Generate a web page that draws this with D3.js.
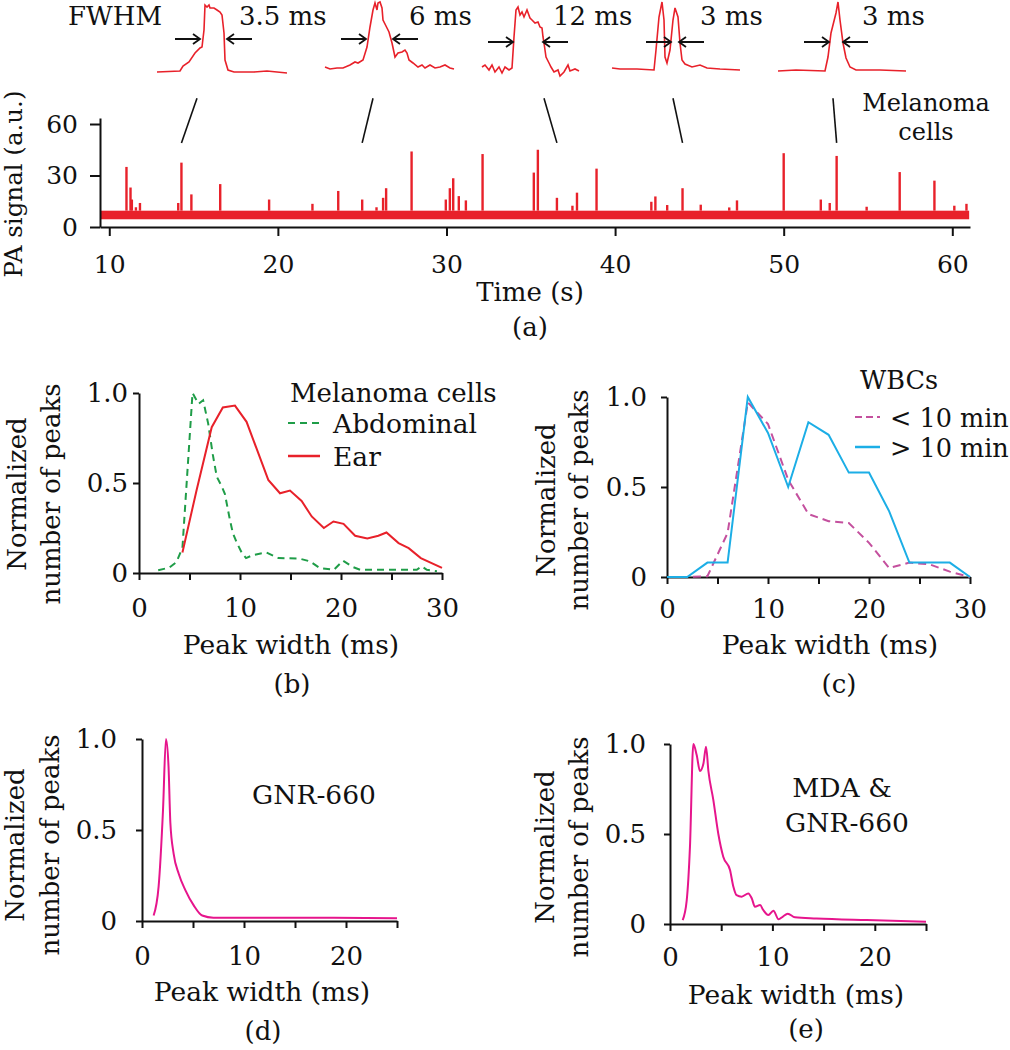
<!DOCTYPE html>
<html>
<head>
<meta charset="utf-8">
<script src="https://cdn.jsdelivr.net/npm/d3@7"></script>
<style>
  body { margin: 0; background: #fff; }
  svg text { font-family: "DejaVu Serif", serif; fill: #111; }
</style>
</head>
<body>
<div id="chart"></div>
<script>
// ---- (a) PA trace: spikes as [time s, height a.u.], baseline band
var spikes = [
  [11.02,35],[11.26,23],[11.34,16],[11.58,11.5],[11.82,14],[14.09,14],[14.28,37.5],[14.87,19],
  [16.58,25],[19.48,16],[22.05,13.5],[23.58,21],[25.0,16],[25.85,11.5],[26.24,17],[26.42,22.6],
  [27.93,44],[29.96,16],[30.2,22.6],[30.4,28.4],[30.73,18],[31.15,15.5],[32.14,42.5],[35.18,31.7],
  [35.42,45],[36.55,17],[37.47,12.4],[37.74,20],[38.9,34],[42.15,14.7],[42.39,17.8],[43.09,12.8],
  [44.0,22.6],[45.08,13],[46.77,11.4],[47.23,15.5],[50.0,43],[52.2,16],[52.73,14],[53.14,41.4],
  [54.92,11.8],[56.88,32],[58.94,27],[60.12,12.4],[60.84,13.5]
];
var baselineLow = 4.5, baselineHigh = 9.5;
var traceStart = 9.5, traceEnd = 61.0;
var timeTicks = [10, 20, 30, 40, 50, 60];
var signalTicks = [0, 30, 60];

// ---- inset waveforms [sample, amplitude]
var wave1 = [[0,2],[23,3],[26,8],[32,12],[38,21],[43,26],[45,27],[47,44],[48,69],[50,67],[52,69],[53,66],[57,66],[60,64],[63,62],[65,59],[67,41],[68,14],[71,4],[77,2],[97,2],[110,3],[130,1]];
var wave2 = [[0,7],[5,5],[12,6],[18,6],[25,9],[30,12],[33,11],[38,14],[42,27],[45,47],[48,64],[50,71],[52,64],[53,71],[55,72],[57,66],[58,54],[62,46],[64,42],[67,31],[70,17],[73,21],[77,22],[80,24],[82,21],[84,14],[88,11],[93,7],[97,9],[100,6],[105,9],[110,6],[115,7],[120,9],[125,6],[129,5]];
var wave3 = [[0,7],[3,9],[7,4],[10,9],[13,2],[17,7],[20,1],[23,7],[27,4],[30,6],[32,37],[34,64],[36,67],[38,59],[40,62],[42,57],[45,64],[48,56],[50,54],[53,51],[56,52],[58,47],[60,46],[61,37],[62,31],[64,17],[67,11],[69,7],[72,2],[76,4],[78,-2],[82,2],[86,9],[88,3],[93,5],[97,3]];
var wave4 = [[0,6],[8,5],[25,5],[42,4],[44,24],[47,57],[50,72],[52,54],[53,17],[55,11],[58,24],[61,54],[63,66],[66,57],[68,31],[70,14],[73,10],[80,7],[88,9],[95,6],[108,5],[128,4]];
var wave5 = [[0,3],[18,4],[47,3],[50,17],[53,41],[58,61],[60,72],[62,54],[65,31],[68,16],[72,7],[78,4],[102,4],[128,3]];
var fwhmLabels = ["3.5 ms", "6 ms", "12 ms", "3 ms", "3 ms"];
var fwhmLeft = [43, 41, 31, 59, 51];
var fwhmRight = [70, 68, 61, 67, 65];
var insetSpikeTimes = [14.28, 25.0, 36.55, 44.0, 53.14];

// ---- (b) melanoma cells
var abdWidth = [1.9,3.0,3.7,4.3,5.3,5.9,6.35,6.85,7.3,7.7,8.2,8.5,9.0,9.3,9.7,10.2,10.6,11.3,12.6,13.8,15.9,16.9,17.9,19.3,20.2,21.2,21.9,27.5,28.0,28.5,29.5];
var abdValue = [0.015,0.03,0.06,0.14,1.0,0.94,0.96,0.83,0.66,0.535,0.48,0.44,0.295,0.22,0.166,0.11,0.083,0.10,0.114,0.083,0.08,0.065,0.028,0.018,0.068,0.033,0.018,0.018,0.037,0.018,0.01];
var earWidth = [4.3,5.7,7.2,8.3,9.5,10.65,12.8,13.96,14.95,16.1,17.1,18.3,19.25,20.25,21.4,22.6,23.7,24.5,25.7,26.7,27.9,30.0];
var earValue = [0.114,0.46,0.81,0.92,0.93,0.84,0.517,0.443,0.458,0.40,0.314,0.25,0.286,0.273,0.207,0.192,0.207,0.225,0.166,0.138,0.083,0.028];

// ---- (c) WBCs
var wbcWidth = [0,2,4,6,8,10,12,14,16,18,20,22,24,26,28,30];
var wbcShort = [0,0,0.004,0.245,0.97,0.85,0.54,0.35,0.31,0.30,0.19,0.05,0.08,0.07,0.03,0];
var wbcLong = [0,0,0.08,0.08,1.0,0.8,0.5,0.86,0.79,0.58,0.58,0.365,0.08,0.08,0.08,0];

// ---- (d) GNR-660, (e) MDA & GNR-660
var gnrWidth = [1.14,1.63,2.06,2.35,2.6,2.78,3.1,3.6,4.25,5.07,5.9,7.0,9,18.8,25];
var gnrValue = [0.03,0.19,0.61,1.0,0.85,0.54,0.37,0.26,0.17,0.086,0.03,0.018,0.018,0.018,0.015];
var mdaWidth = [1.24,1.63,1.95,2.28,2.6,2.93,3.26,3.52,3.75,4.23,4.72,5.2,5.86,6.19,6.5,7.0,7.65,7.98,8.3,8.8,9.1,9.6,10.1,10.6,11.0,11.5,12.2,14.3,19.2,25];
var mdaValue = [0.022,0.13,0.43,1.0,0.94,0.85,0.89,0.985,0.85,0.69,0.50,0.374,0.30,0.207,0.16,0.152,0.17,0.143,0.096,0.105,0.078,0.05,0.074,0.026,0.04,0.057,0.037,0.031,0.022,0.013];

var red = "#e8212a", green = "#1f9d48", mauve = "#c4509e", blue = "#1caee6", pink = "#e6158c";

var svg = d3.select("#chart").append("svg")
    .attr("width", 1010)
    .attr("height", 1050);

function text(g, x, y, s, size, anchor) {
	return g.append("text")
		.attr("x", x)
		.attr("y", y)
		.style("font-size", size + "px")
		.style("text-anchor", anchor || "start")
		.text(s);
}

function yLabel(g, x, y, s, size) {
	g.append("text")
		.attr("transform", "translate(" + x + "," + y + ") rotate(-90)")
		.style("font-size", size + "px")
		.style("text-anchor", "middle")
		.text(s);
}

function styleAxis(g, size) {
	g.attr("font-family", null).attr("font-size", null);
	g.select(".domain").attr("stroke", "#111").attr("stroke-width", 2);
	g.selectAll(".tick line").attr("stroke", "#111").attr("stroke-width", 2);
	g.selectAll(".tick text").attr("fill", "#111").style("font-size", size + "px");
}

// ================= panel (a) =================
var xA = d3.scaleLinear().domain([9.45, 61.05]).range([100, 970]);
var yA = d3.scaleLinear().domain([0, 63.5]).range([227, 118]);
var a = svg.append("g");

a.append("rect")
	.attr("x", xA(traceStart))
	.attr("y", yA(baselineHigh))
	.attr("width", xA(traceEnd) - xA(traceStart))
	.attr("height", yA(baselineLow) - yA(baselineHigh))
	.attr("fill", red);

a.selectAll(".spike").data(spikes).enter().append("line")
	.attr("class", "spike")
	.attr("x1", function(d) { return xA(d[0]); })
	.attr("x2", function(d) { return xA(d[0]); })
	.attr("y1", yA(baselineHigh))
	.attr("y2", function(d) { return yA(d[1]); })
	.attr("stroke", red)
	.attr("stroke-width", 2.4);

var gxA = a.append("g")
	.attr("transform", "translate(0," + yA(0) + ")")
	.call(d3.axisBottom(xA).tickValues(timeTicks).tickSize(9).tickSizeOuter(0));
styleAxis(gxA, 25);
gxA.selectAll(".tick text").attr("y", 46).attr("dy", 0);

var gyA = a.append("g")
	.attr("transform", "translate(" + xA(9.45) + ",0)")
	.call(d3.axisLeft(yA).tickValues(signalTicks).tickSize(10).tickSizeOuter(0));
styleAxis(gyA, 25);
gyA.selectAll(".tick text").attr("x", -22);

yLabel(a, 22, 184, "PA signal (a.u.)", 24.5);
text(a, 530, 301, "Time (s)", 26, "middle");
text(a, 530, 336, "(a)", 26, "middle");
text(a, 926, 111, "Melanoma", 24, "middle");
text(a, 926, 140, "cells", 24, "middle");

// insets
var waves = [wave1, wave2, wave3, wave4, wave5];
var insetX0 = [157, 325, 482, 612, 778];
var insetY = d3.scaleLinear().domain([0, 74]).range([74, 0]);
var connectorTop = 75, connectorBottom = 49;

text(a, 68, 25, "FWHM", 26);

function arrow(g, tip, y, dir) {
	var tail = tip - dir * 25;
	g.append("path")
		.attr("d", "M" + tail + "," + y + "H" + tip +
			"M" + (tip - dir * 7) + "," + (y - 5) + "L" + tip + "," + y + "L" + (tip - dir * 7) + "," + (y + 5))
		.attr("fill", "none")
		.attr("stroke", "#111")
		.attr("stroke-width", 1.8);
}

waves.forEach(function(w, i) {
	var ix = d3.scaleLinear().domain([0, 130]).range([insetX0[i], insetX0[i] + 130]);
	var line = d3.line()
		.x(function(d) { return ix(d[0]); })
		.y(function(d) { return insetY(d[1]); });
	a.append("path")
		.attr("d", line(w))
		.attr("fill", "none")
		.attr("stroke", red)
		.attr("stroke-width", 1.6);
	var ay = insetY(i < 2 ? 35 : 32);
	arrow(a, ix(fwhmLeft[i]), ay, 1);
	arrow(a, ix(fwhmRight[i]), ay, -1);
	var lx = [82, 84, 71, 88, 84][i];
	text(a, ix(lx), insetY(49), fwhmLabels[i], 26);
	var topX = ix([40, 48, 62, 61, 55][i]);
	a.append("line")
		.attr("x1", topX)
		.attr("y1", yA(connectorTop))
		.attr("x2", xA(insetSpikeTimes[i]))
		.attr("y2", yA(connectorBottom))
		.attr("stroke", "#111")
		.attr("stroke-width", 1.6);
});

// ================= histogram panels =================
function histPanel(p) {
	var g = svg.append("g");
	var x = d3.scaleLinear().domain([0, p.xMax]).range([p.left, p.right]);
	var y = d3.scaleLinear().domain([0, 1]).range([p.bottom, p.top]);

	var ticks = d3.range(0, p.xMax + 1, 5);
	var gx = g.append("g")
		.attr("transform", "translate(0," + p.bottom + ")")
		.call(d3.axisBottom(x).tickValues(ticks).tickSize(7).tickSizeOuter(0)
			.tickFormat(function(d) { return d % 10 === 0 ? d : ""; }));
	styleAxis(gx, 26);
	gx.selectAll(".tick text").attr("y", p.tickY).attr("dy", 0);

	var gy = g.append("g")
		.attr("transform", "translate(" + p.left + ",0)")
		.call(d3.axisLeft(y).tickValues([0, 0.5, 1]).tickSize(6).tickSizeOuter(0)
			.tickFormat(function(d) { return d === 0 ? "0" : d3.format(".1f")(d); }));
	styleAxis(gy, 26);
	gy.selectAll(".tick text").attr("x", p.tickX);

	yLabel(g, p.left - p.lab1, p.labY, "Normalized", 26);
	yLabel(g, p.left - p.lab2, p.labY, "number of peaks", 26);
	text(g, p.titleX, p.titleY, "Peak width (ms)", 26.5, "middle");
	text(g, p.tagX, p.tagY, p.tag, 26, "middle");

	p.series.forEach(function(s) {
		var pts = s.w.map(function(d, i) { return [d, s.v[i]]; });
		var line = d3.line()
			.x(function(d) { return x(d[0]); })
			.y(function(d) { return y(d[1]); })
			.curve(s.smooth ? d3.curveMonotoneX : d3.curveLinear);
		g.append("path")
			.attr("d", line(pts))
			.attr("fill", "none")
			.attr("stroke", s.color)
			.attr("stroke-width", 2)
			.attr("stroke-dasharray", s.dash || null);
	});
	return g;
}

var gb = histPanel({
	left: 139, right: 442, top: 393, bottom: 573, xMax: 30,
	tickY: 44, tickX: -11, lab1: 113, lab2: 79, labY: 494,
	titleX: 291, titleY: 654, tagX: 292, tagY: 693, tag: "(b)",
	series: [
		{ w: abdWidth, v: abdValue, color: green, dash: "7,5" },
		{ w: earWidth, v: earValue, color: red }
	]
});
text(gb, 290, 402, "Melanoma cells", 26);
gb.append("line").attr("x1", 288).attr("x2", 320).attr("y1", 423).attr("y2", 423)
	.attr("stroke", green).attr("stroke-width", 2).attr("stroke-dasharray", "7,5");
text(gb, 333, 433, "Abdominal", 26.5);
gb.append("line").attr("x1", 288).attr("x2", 320).attr("y1", 456).attr("y2", 456)
	.attr("stroke", red).attr("stroke-width", 2.5);
text(gb, 333, 466, "Ear", 26.5);

var gc = histPanel({
	left: 667, right: 970, top: 397, bottom: 577, xMax: 30,
	tickY: 41, tickX: -20, lab1: 112, lab2: 79, labY: 500,
	titleX: 830, titleY: 654, tagX: 839, tagY: 693, tag: "(c)",
	series: [
		{ w: wbcWidth, v: wbcShort, color: mauve, dash: "8,5" },
		{ w: wbcWidth, v: wbcLong, color: blue }
	]
});
text(gc, 860, 389, "WBCs", 25.5);
gc.append("line").attr("x1", 855).attr("x2", 880).attr("y1", 417).attr("y2", 417)
	.attr("stroke", mauve).attr("stroke-width", 2).attr("stroke-dasharray", "7,4");
text(gc, 890, 427, "< 10 min", 25.5);
gc.append("line").attr("x1", 855).attr("x2", 880).attr("y1", 447).attr("y2", 447)
	.attr("stroke", blue).attr("stroke-width", 2.5);
text(gc, 890, 457, "> 10 min", 25.5);

var gd = histPanel({
	left: 142, right: 397, top: 739, bottom: 921, xMax: 25,
	tickY: 44, tickX: -25, lab1: 118, lab2: 83, labY: 845,
	titleX: 262, titleY: 1001, tagX: 263, tagY: 1040, tag: "(d)",
	series: [ { w: gnrWidth, v: gnrValue, color: pink, smooth: true } ]
});
text(gd, 314, 804, "GNR-660", 26.5, "middle");

var ge = histPanel({
	left: 670, right: 926, top: 744, bottom: 924, xMax: 25,
	tickY: 42, tickX: -24, lab1: 116, lab2: 82, labY: 847,
	titleX: 796, titleY: 1004, tagX: 806, tagY: 1038, tag: "(e)",
	series: [ { w: mdaWidth, v: mdaValue, color: pink, smooth: true } ]
});
text(ge, 842, 797, "MDA &", 26.5, "middle");
text(ge, 847, 832, "GNR-660", 26.5, "middle");
</script>
</body>
</html>
